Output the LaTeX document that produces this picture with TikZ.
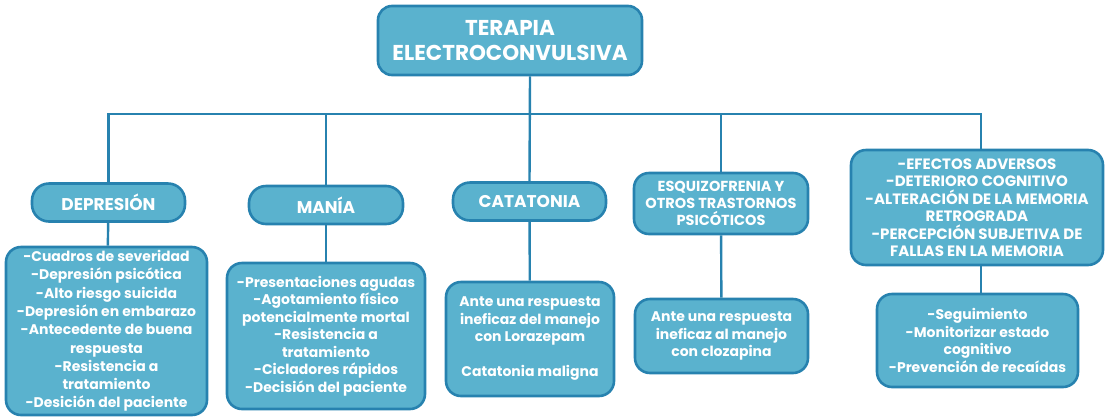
\documentclass[tikz,border=0pt]{standalone}
\usepackage{fontspec}
\setmainfont{Poppins}
\usetikzlibrary{positioning}
\definecolor{BoxFill}{HTML}{5AB2CE}
\definecolor{BoxLine}{HTML}{2782AF}

\begin{document}
\begin{tikzpicture}[x=1pt, y=-1pt,
  topbox/.style={draw=BoxLine, fill=BoxFill, line width=2.6pt, rounded corners=14pt,
                 align=center, text=white, font=\bfseries\fontsize{21.5}{25}\selectfont,
                 minimum width=264pt, minimum height=69pt, inner sep=0pt},
  catbox/.style={draw=BoxLine, fill=BoxFill, line width=2.6pt, rounded corners=17pt,
                 align=center, text=white, font=\bfseries\fontsize{17}{17}\selectfont,
                 minimum height=38pt, inner sep=0pt},
  infobox/.style={draw=BoxLine, fill=BoxFill, line width=2.6pt, rounded corners=15pt,
                  align=center, text=white, font=\bfseries\fontsize{14}{17.5}\selectfont,
                  inner sep=0pt},
  link/.style={draw=BoxLine, line width=2.4pt},
  node distance=25pt
]
  \useasboundingbox (0,0) rectangle (1108,416);

  % root
  \node[topbox] (ect) at (510,40.5) {TERAPIA\\ELECTROCONVULSIVA};
  \coordinate (bus) at (530,114);
  \coordinate (busR) at (981,114);

  % indications and effects
  \node[catbox, minimum width=153pt] (dep) at (108.5,202.5) {DEPRESIÓN};
  \node[catbox, minimum width=154pt] (man) at (326,205)     {MANÍA};
  \node[catbox, minimum width=153pt] (cat) at (529.5,201.5) {CATATONIA};
  \node[catbox, minimum width=174pt, minimum height=61pt, rounded corners=15pt,
        font=\bfseries\fontsize{14.5}{17}\selectfont] (esq) at (721,203.5)
    {ESQUIZOFRENIA Y\\OTROS TRASTORNOS\\PSICÓTICOS};
  \node[catbox, minimum width=252pt, minimum height=115pt, rounded corners=15pt,
        font=\bfseries\fontsize{15}{17.5}\selectfont] (efe) at (977,207.5)
    {-EFECTOS ADVERSOS\\-DETERIORO COGNITIVO\\-ALTERACIÓN DE LA MEMORIA\\RETROGRADA\\
     -PERCEPCIÓN SUBJETIVA DE\\FALLAS EN LA MEMORIA};

  % details
  \node[infobox, minimum width=201pt, minimum height=168pt,
        font=\bfseries\fontsize{14}{18.3}\selectfont] (depd) at (106.5,331)
    {-Cuadros de severidad\\-Depresión psicótica\\-Alto riesgo suicida\\-Depresión en embarazo\\
     -Antecedente de buena\\respuesta\\-Resistencia a\\tratamiento\\-Desición del paciente};
  \node[infobox, minimum width=198pt, minimum height=146pt] (mand) at (326,336)
    {-Presentaciones agudas\\-Agotamiento físico\\potencialmente mortal\\-Resistencia a\\tratamiento\\
     -Cicladores rápidos\\-Decisión del paciente};
  \node[infobox, minimum width=168pt, minimum height=114pt] (catd) at (530,339)
    {Ante una respuesta\\ineficaz del manejo\\con Lorazepam\\[17.5pt]Catatonia maligna};
  \node[infobox, minimum width=173pt, minimum height=74pt] (esqd) at (721.5,336)
    {Ante una respuesta\\ineficaz al manejo\\con clozapina};
  \node[infobox, minimum width=201pt, minimum height=93pt] (efed) at (977.5,340.5)
    {-Seguimiento\\-Monitorizar estado\\cognitivo\\-Prevención de recaídas};

  % tree lines
  \draw[link] (ect.south -| bus) -- (cat.north);
  \draw[link] (dep.north) -- (dep.north |- bus) -- (busR) -- ([xshift=4pt]efe.north);
  \draw[link] (man.north) -- (man.north |- bus);
  \draw[link] (esq.north) -- (esq.north |- bus);
  \draw[link] (dep) -- (depd);
  \draw[link] (man) -- (mand);
  \draw[link] (cat) -- (catd);
  \draw[link] (esq) -- (esqd);
  \draw[link] ([xshift=4pt]efe.south) -- ([xshift=3.5pt]efed.north);
\end{tikzpicture}
\end{document}
